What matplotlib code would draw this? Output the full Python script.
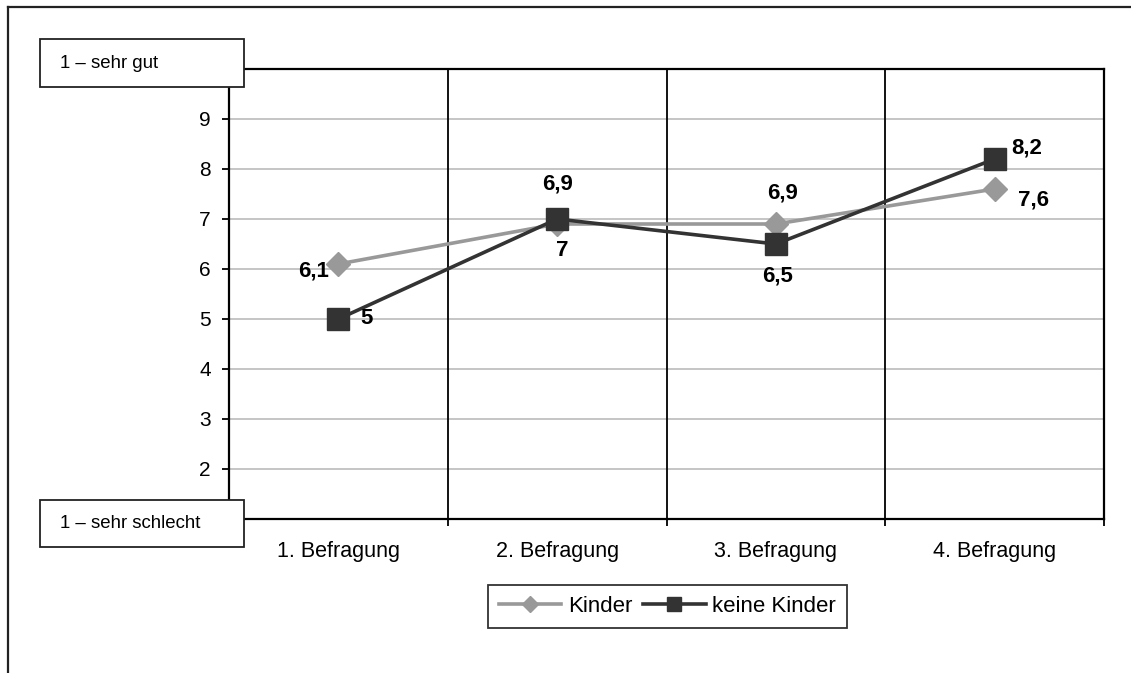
import numpy as np
import matplotlib.pyplot as plt
from matplotlib.patches import Rectangle
from matplotlib.lines import Line2D

plt.rcParams['font.family'] = ['Liberation Sans', 'DejaVu Sans']

# ---- data ----
categories = ['1. Befragung', '2. Befragung', '3. Befragung', '4. Befragung']
kinder = [6.1, 6.9, 6.9, 7.6]
keine_kinder = [5.0, 7.0, 6.5, 8.2]
kinder_labels = ['6,1', '6,9', '6,9', '7,6']
keine_labels = ['5', '7', '6,5', '8,2']
y_ticks = [2, 3, 4, 5, 6, 7, 8, 9]

# label offsets in points (hand tuned)
kinder_off = [(-7, -5, 'right'), (0, 29, 'center'), (5, 22, 'center'), (28, -8, 'center')]
keine_off = [(16, 0, 'left'), (4, -23, 'center'), (1, -23, 'center'), (23, 8, 'center')]

W, H = 1131, 673
fig = plt.figure(figsize=(W / 100, H / 100), dpi=100)
ax = fig.add_axes([229 / W, 1 - 519 / H, (1104 - 229) / W, (519 - 69) / H])

x = np.arange(len(categories)) + 0.5
ax.set_xlim(0, len(categories))
ax.set_ylim(1, 10)

for v in y_ticks:
    ax.axhline(v, color='#c0c0c0', lw=1.3, zorder=1)
for b in range(1, len(categories)):
    ax.axvline(b, color='black', lw=1.3, zorder=1)

c_k, c_n = '#999999', '#333333'
ax.plot(x, kinder, color=c_k, lw=2.6, marker='D', ms=12, mec=c_k, zorder=3)
ax.plot(x, keine_kinder, color=c_n, lw=2.6, marker='s', ms=16, mec=c_n, zorder=4)

for xi, v, lab, (dx, dy, ha) in zip(x, kinder, kinder_labels, kinder_off):
    ax.annotate(lab, (xi, v), xytext=(dx, dy), textcoords='offset points',
                ha=ha, va='center', fontsize=16, fontweight='bold', zorder=5)
for xi, v, lab, (dx, dy, ha) in zip(x, keine_kinder, keine_labels, keine_off):
    ax.annotate(lab, (xi, v), xytext=(dx, dy), textcoords='offset points',
                ha=ha, va='center', fontsize=16, fontweight='bold', zorder=5)

for s in ax.spines.values():
    s.set_color('black')
    s.set_linewidth(1.6)

ax.set_yticks(y_ticks)
ax.tick_params(axis='y', direction='out', length=5, width=1.3, pad=8, labelsize=15)
ax.set_xticks(x)
ax.set_xticklabels(categories)
ax.tick_params(axis='x', length=0, pad=16, labelsize=15.5)
ax.set_xticks(range(len(categories) + 1), minor=True)
ax.tick_params(axis='x', which='minor', direction='out', length=5, width=1.3)

# outer frame (top and left edges visible)
fig.add_artist(Line2D([8 / W, 1], [1 - 7 / H, 1 - 7 / H], color='#222222', lw=1.6))
fig.add_artist(Line2D([8 / W, 8 / W], [1 - 7 / H, 0], color='#222222', lw=1.6))

# scale boxes
for (top, bot, txt) in [(39, 87, '1 – sehr gut'), (500, 547, '1 – sehr schlecht')]:
    fig.add_artist(Rectangle((40 / W, 1 - bot / H), 204 / W, (bot - top) / H,
                             transform=fig.transFigure, facecolor='white',
                             edgecolor='#222222', lw=1.3, zorder=10))
    fig.text(60 / W, 1 - (top + bot) / 2 / H, txt, fontsize=13.4,
             ha='left', va='center', zorder=11)

handles = [Line2D([], [], color=c_k, lw=2.6, marker='D', ms=8, mec=c_k),
           Line2D([], [], color=c_n, lw=2.6, marker='s', ms=10, mec=c_n)]
leg = fig.legend(handles, ['Kinder', 'keine Kinder'], loc='center',
                 bbox_to_anchor=((489 + 846) / 2 / W, 1 - 606.5 / H), ncol=2,
                 fontsize=16, frameon=True, fancybox=False, handlelength=2.8,
                 handletextpad=0.3, columnspacing=0.5, borderpad=0.5,
                 borderaxespad=0)
leg.get_frame().set_edgecolor('black')
leg.get_frame().set_linewidth(1.3)

fig.savefig('out.png', dpi=100)
